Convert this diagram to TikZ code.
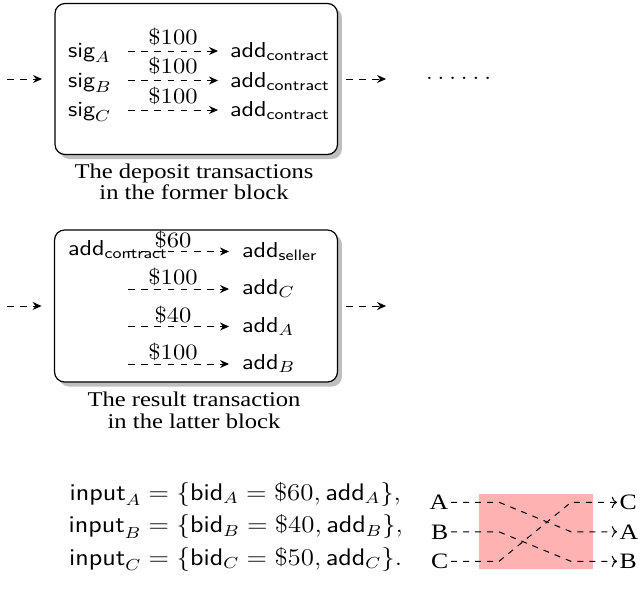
\documentclass[tikz,border=0pt]{standalone}
\usepackage{amsmath}
\usepackage{fontspec}
\newfontfamily\capfont[FakeStretch=1.045]{Liberation Serif}
\usetikzlibrary{arrows.meta,shadows}
\begin{document}
\begin{tikzpicture}[x=0.44643pt, y=-0.5pt, xscale=1.12,
  every node/.append style={transform shape, inner sep=0pt, outer sep=0pt},
  txt/.style={font=\fontsize{10.8}{12.8}\selectfont},
  eqtxt/.style={font=\fontsize{12}{14.4}\selectfont},
  lft/.style={txt, anchor=base west},
  lbl/.style={txt, anchor=base},
  captext/.style={font=\capfont\fontsize{10.5}{12}\selectfont, anchor=base},
  swl/.style={font=\capfont\fontsize{11}{12}\selectfont, inner sep=1.2pt},
  blockbox/.style={draw=black, line width=0.6pt, fill=white, rounded corners=5pt,
     drop shadow={shadow xshift=2.25pt, shadow yshift=-2.25pt, fill=black!25, opacity=1}},
  darr/.style={dash pattern=on 3.3pt off 3.3pt, line width=0.5pt, -{Stealth[length=4.5pt,width=4pt]}},
  sarr/.style={dash pattern=on 3pt off 3pt, line width=0.5pt, ->},
]
\useasboundingbox (0,0) rectangle (640,589);

% ---------- former block ----------
\node[blockbox, minimum width=126.1pt, minimum height=75.5pt] (box1) at (196.25,79) {};
\coordinate (in1) at (7,79);
\coordinate (out1) at (386,79);
\draw[darr, shorten >=6.5pt] (in1) -- (box1.west);
\draw[darr, shorten <=4.25pt] (box1.east) -- (out1);
\node[lft] (dots) at (426,79) {.\kern2.2pt.\kern2.2pt.\kern2.2pt.\kern2.2pt.\kern2.2pt.};

\foreach \L/\y in {A/51, B/80.5, C/110} {
  \node[lft] (sig\L) at (68,\y+6.5) {$\mathsf{sig}_\L$};
  \node[lft] (ac\L) at (230,\y+6.5) {$\mathsf{add}_\mathsf{contract}$};
  \coordinate (ds\L) at (128,\y);
  \coordinate (de\L) at (218,\y);
  \draw[darr] (ds\L) -- (de\L);
  \node[lbl] (dv\L) at (173,\y-7) {$\$100$};
}
\node[captext] (cap1a) at (194,178.5) {The deposit transactions};
\node[captext] (cap1b) at (194,199.5) {in the former block};

% ---------- latter block ----------
\node[blockbox, minimum width=126.3pt, minimum height=76pt] (box2) at (196,306) {};
\coordinate (in2) at (7,306);
\coordinate (out2) at (386,306);
\draw[darr, shorten >=6.5pt] (in2) -- (box2.west);
\draw[darr, shorten <=4.25pt] (box2.east) -- (out2);

\node[lft] (acr) at (68,255) {$\mathsf{add}_\mathsf{contract}$};
\coordinate (rs1) at (128,251.5); \coordinate (re1) at (229,251.5);
\coordinate (rs2) at (128,289);   \coordinate (re2) at (229,289);
\coordinate (rs3) at (128,326.5); \coordinate (re3) at (229,326.5);
\coordinate (rs4) at (128,364);   \coordinate (re4) at (229,364);
\draw[darr] (rs1) -- (re1);
\draw[darr] (rs2) -- (re2);
\draw[darr] (rs3) -- (re3);
\draw[darr] (rs4) -- (re4);
\node[lbl] (rv1) at (173,247) {$\$60$};
\node[lbl] (rv2) at (173,284.5) {$\$100$};
\node[lbl] (rv3) at (173,322) {$\$40$};
\node[lbl] (rv4) at (173,359.5) {$\$100$};
\node[lft] (ts) at (242,257) {$\mathsf{add}_\mathsf{seller}$};
\node[lft] (tC) at (242,294.5) {$\mathsf{add}_C$};
\node[lft] (tA) at (242,332) {$\mathsf{add}_A$};
\node[lft] (tB) at (242,369.5) {$\mathsf{add}_B$};
\node[captext] (cap2a) at (194,406.5) {The result transaction};
\node[captext] (cap2b) at (194,428) {in the latter block};

% ---------- inputs ----------
\node[eqtxt, anchor=base east] (inputs) at (403,500) {\setlength{\jot}{1.85pt}$\begin{aligned}[t]
\mathsf{input}_A &= \{\mathsf{bid}_A = \$60, \mathsf{add}_A\},\\
\mathsf{input}_B &= \{\mathsf{bid}_B = \$40, \mathsf{add}_B\},\\
\mathsf{input}_C &= \{\mathsf{bid}_C = \$50, \mathsf{add}_C\}.
\end{aligned}$};

% ---------- swap ----------
\fill[red!30] (479,494) rectangle (593,569);
\node[swl, anchor=base east] (swA) at (451,509.5) {A};
\node[swl, anchor=base east] (swB) at (451,539) {B};
\node[swl, anchor=base east] (swC) at (451,568.5) {C};
\node[swl, anchor=base west] (rC) at (617,509.5) {C};
\node[swl, anchor=base west] (rA) at (617,539) {A};
\node[swl, anchor=base west] (rB) at (617,568.5) {B};
\draw[sarr] (swA.east) -- (499,0 |- swA.east) -- (571,0 |- rA.west) -- (rA.west);
\draw[sarr] (swB.east) -- (499,0 |- swB.east) -- (571,0 |- rB.west) -- (rB.west);
\draw[sarr] (swC.east) -- (499,0 |- swC.east) -- (571,0 |- rC.west) -- (rC.west);
\end{tikzpicture}
\end{document}
